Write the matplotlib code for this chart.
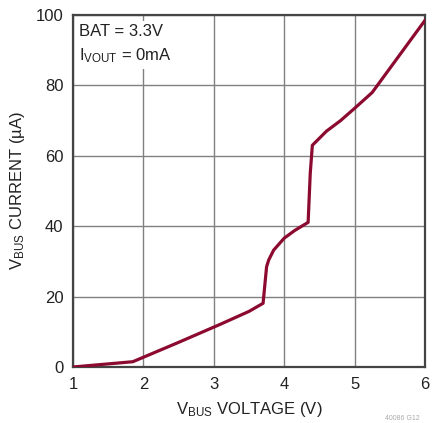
import matplotlib.pyplot as plt

plt.rcParams['font.family'] = ['Liberation Sans', 'DejaVu Sans']
plt.rcParams['mathtext.fontset'] = 'custom'
plt.rcParams['mathtext.rm'] = 'Liberation Sans'
plt.rcParams['mathtext.it'] = 'Liberation Sans'
plt.rcParams['mathtext.bf'] = 'Liberation Sans'

# VBUS voltage (V) vs VBUS current (uA)
vbus_v = [1.0, 1.85, 2.5, 3.1, 3.5, 3.70, 3.75, 3.78, 3.85, 4.0, 4.15, 4.34, 4.37, 4.40,
          4.6, 4.8, 5.0, 5.25, 6.0]
vbus_ua = [0.0, 1.5, 7.0, 12.2, 15.8, 18.1, 28.5, 30.4, 33.2, 36.6, 38.8, 41.1, 55.0, 63.0,
           67.0, 70.0, 73.5, 78.0, 98.5]

x_ticks = [1, 2, 3, 4, 5, 6]
y_ticks = [0, 20, 40, 60, 80, 100]

fig = plt.figure(figsize=(4.33, 4.23), dpi=100)
ax = fig.add_axes([0.1686, 0.1324, 0.8129, 0.832])

ax.plot(vbus_v, vbus_ua, color='#8c0a30', lw=2.3, solid_joinstyle='round', zorder=3)

ax.set_xlim(1, 6)
ax.set_ylim(0, 100)
ax.set_xticks(x_ticks)
ax.set_yticks(y_ticks)
ax.grid(True, color='#808080', lw=1.0)
ax.tick_params(length=0, labelsize=12, colors='#222222', pad=7)
for s in ax.spines.values():
    s.set_color('#444444')
    s.set_linewidth(1.6)

ax.set_xlabel(r'V$_{\rm BUS}$ VOLTAGE (V)', fontsize=12, color='#222222', labelpad=6)
ax.set_ylabel(r'V$_{\rm BUS}$ CURRENT (µA)', fontsize=12, color='#222222', labelpad=6)

ax.text(0.018, 0.975, 'BAT = 3.3V\n' + r'I$_{\rm VOUT}$ = 0mA', transform=ax.transAxes,
        ha='left', va='top', fontsize=12, color='#222222', linespacing=1.5,
        bbox=dict(facecolor='white', edgecolor='none', pad=3))

fig.text(0.89, 0.003, '40086 G12', fontsize=5, color='#aaaaaa', ha='left', va='bottom')

fig.savefig('out.png', dpi=100)
